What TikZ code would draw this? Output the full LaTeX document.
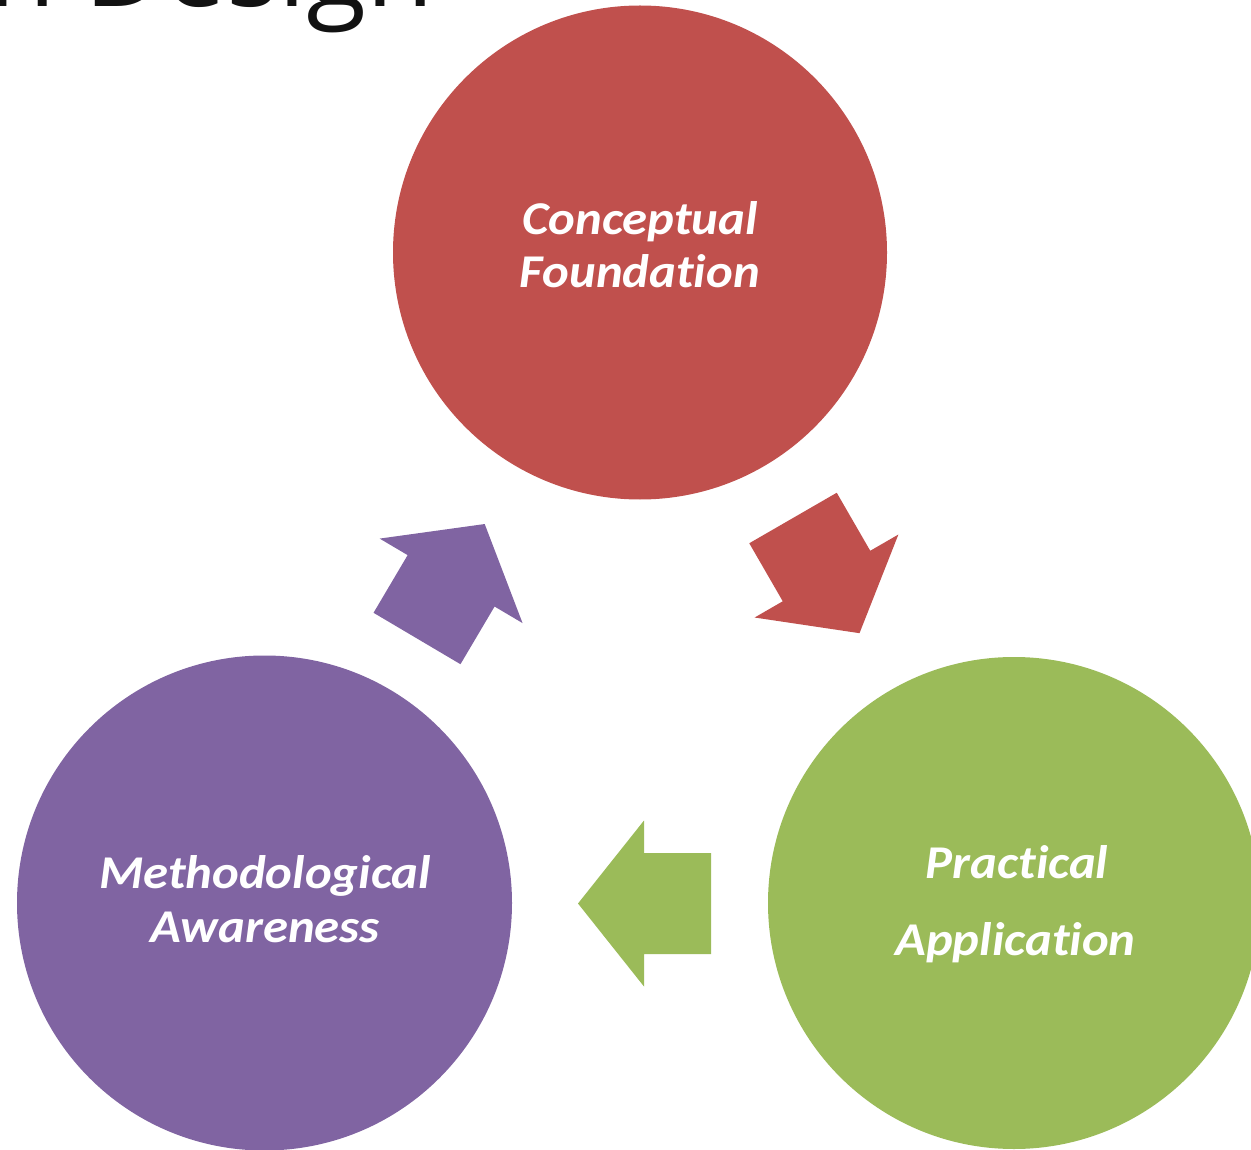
\documentclass[tikz,border=0pt]{standalone}
\usepackage{fontspec}
\setmainfont{Carlito}[Ligatures=NoCommon, FakeStretch=1.08]
\newfontfamily\titlefont{Open Sans}
\definecolor{cred}{HTML}{C0504D}
\definecolor{cpurple}{HTML}{8064A2}
\definecolor{cgreen}{HTML}{9BBB59}
\newcommand\blockarrowpath{(0,-50.5) -- (67,-50.5) -- (67,-83) -- (133,0) -- (67,83) -- (67,50.5) -- (0,50.5) -- cycle}
\tikzset{
  bubble/.style={circle, inner sep=0pt, minimum size=#1},
  label/.style={text=white, inner sep=0pt, anchor=base, font=\fontsize{47}{50}\selectfont\bfseries\itshape},
}
\begin{document}
\begin{tikzpicture}[x=1pt, y=-1pt]
\useasboundingbox (0,0) rectangle (1251,1150);
\clip (0,0) rectangle (1251,1150);
\node[inner sep=0pt, anchor=base west, font=\titlefont\fontsize{110}{120}\selectfont, text=black!93] (title) at (-12,7) {n Design};
\node[bubble=494pt, fill=cred] (cf) at (640,252.5) {};
\node[bubble=495pt, fill=cpurple] (ma) at (264.5,903) {};
\node[bubble=492pt, fill=cgreen] (pa) at (1014,903) {};
\node[label] (cf1) at (640,235) {Conceptual};
\node[label] (cf2) at (640,288) {Foundation};
\node[label] (ma1) at (265,888) {Methodological};
\node[label] (ma2) at (265,942) {Awareness};
\node[label] (pa1) at (1017,878) {Practical};
\node[label] (pa2) at (1015.5,955) {Application};
\fill[cred, shift={(793,518)}, rotate=-60] \blockarrowpath;
\fill[cgreen, shift={(711,903.5)}, rotate=180] \blockarrowpath;
\fill[cpurple, shift={(417,638.5)}, rotate=59.4] \blockarrowpath;
\end{tikzpicture}
\end{document}
